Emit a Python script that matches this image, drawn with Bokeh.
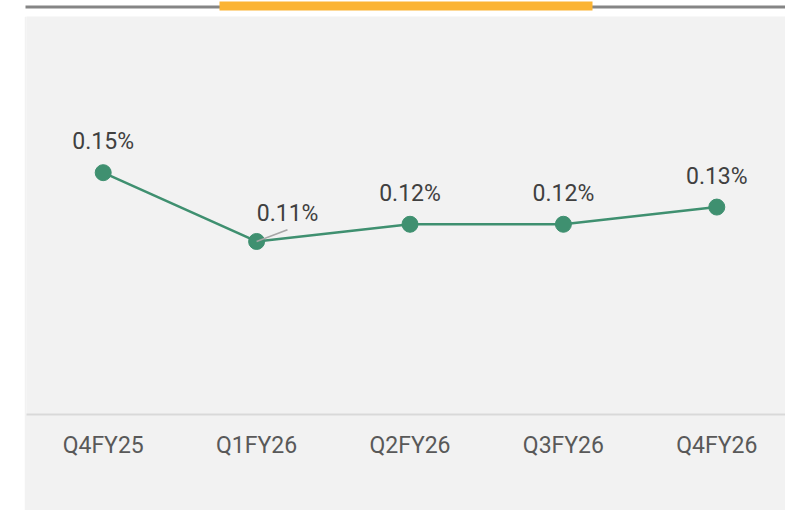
import math
from bokeh.plotting import figure
from bokeh.layouts import column, row
from bokeh.models import Range1d, ColumnDataSource, FixedTicker, Spacer
from bokeh.core.properties import value
from bokeh.embed import file_html
from bokeh.resources import INLINE

# ---- data ----
quarters = ["Q4FY25", "Q1FY26", "Q2FY26", "Q3FY26", "Q4FY26"]
ratio_pct = [0.15, 0.11, 0.12, 0.12, 0.13]
labels = [f"{v:.2f}%" for v in ratio_pct]
xpos = list(range(len(quarters)))

GREEN = "#3f9070"
PANEL = "#f2f2f2"
FONT = "Roboto"
W, H = 785, 510
TOP = 16      # height of header strip
LEFT = 24     # white strip on the left of the panel

# ---- header strip (grey rule with orange accent) ----
hdr = figure(width=W, height=TOP, x_range=Range1d(0, W), y_range=Range1d(TOP, 0),
             output_backend="svg", toolbar_location=None,
             x_axis_location=None, y_axis_location=None,
             min_border=0, min_border_left=0, min_border_right=0,
             min_border_top=0, min_border_bottom=0)
hdr.background_fill_color = "white"
hdr.border_fill_color = "white"
hdr.outline_line_color = None
hdr.grid.visible = False
hdr.quad(left=[25], right=[W], top=[5], bottom=[8], fill_color="#858585", line_color=None)
hdr.quad(left=[219], right=[592], top=[1], bottom=[10], fill_color="#fbb434", line_color=None)

# ---- main chart ----
PW, PH = W - LEFT, H - TOP
frame_left = 2
p = figure(
    width=PW, height=PH,
    x_range=Range1d(-0.5, -0.5 + (PW - frame_left) / 153.4),
    y_range=Range1d(0.0094, 0.2408),
    output_backend="svg", toolbar_location=None,
    x_axis_location="below", y_axis_location=None,
    min_border=0, min_border_left=frame_left, min_border_right=0,
    min_border_top=0, min_border_bottom=PH - (414 - TOP),
)
p.background_fill_color = PANEL
p.border_fill_color = PANEL
p.outline_line_color = None
p.grid.visible = False

src = ColumnDataSource(dict(x=xpos, v=ratio_pct, lab=labels))

p.line("x", "v", source=src, line_color=GREEN, line_width=2.5)
p.scatter("x", "v", source=src, size=16, fill_color=GREEN, line_color=GREEN)

# leader line for the Q1FY26 label
p.ray(x=[xpos[1]], y=[ratio_pct[1]], length=33, length_units="screen",
      angle=math.radians(20.7), line_color="#a6a6a6", line_width=1.5)

main_idx = [0, 2, 3, 4]
p.text(x=[xpos[i] for i in main_idx], y=[ratio_pct[i] for i in main_idx],
       text=[labels[i] for i in main_idx], y_offset=-31,
       text_align="center", text_baseline="alphabetic",
       text_font=value(FONT), text_font_size="23px", text_color="#404040")
p.text(x=[xpos[1]], y=[ratio_pct[1]], text=[labels[1]],
       x_offset=31, y_offset=-28,
       text_align="center", text_baseline="alphabetic",
       text_font=value(FONT), text_font_size="23px", text_color="#404040")

ax = p.xaxis[0]
ax.ticker = FixedTicker(ticks=xpos)
ax.major_label_overrides = {i: q for i, q in zip(xpos, quarters)}
ax.axis_line_color = "#d9d9d9"
ax.axis_line_width = 2
ax.major_tick_line_color = None
ax.minor_tick_line_color = None
ax.major_tick_out = 0
ax.major_tick_in = 0
ax.major_label_standoff = 17
ax.major_label_text_font = FONT
ax.major_label_text_font_size = "23px"
ax.major_label_text_color = "#595959"

layout = column(hdr, row(Spacer(width=LEFT, height=PH), p, spacing=0), spacing=0)

open("out.html", "w").write(file_html(layout, INLINE))
